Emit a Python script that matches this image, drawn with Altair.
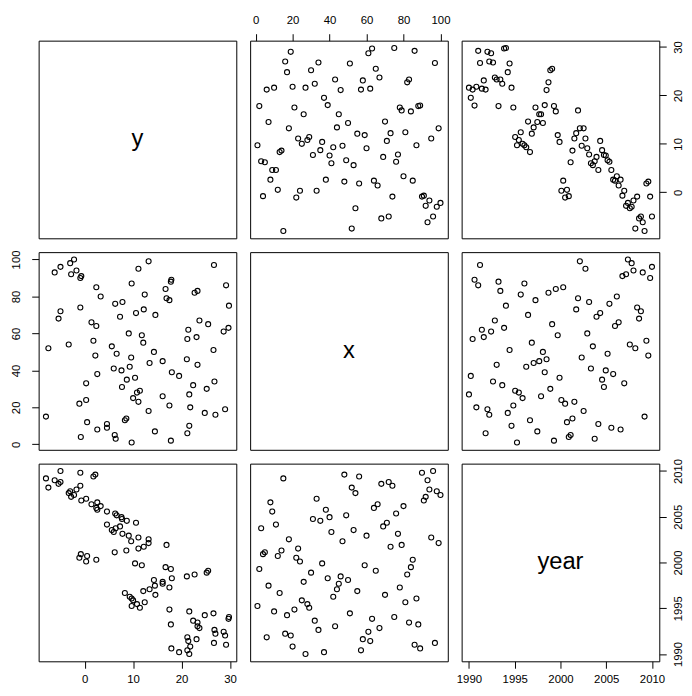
import altair as alt
import pandas as pd

year = [1990.00, 1990.20, 1990.40, 1990.61, 1990.81, 1991.01, 1991.21, 1991.41, 1991.62, 1991.82,
        1992.02, 1992.22, 1992.42, 1992.63, 1992.83, 1993.03, 1993.23, 1993.43, 1993.64, 1993.84,
        1994.04, 1994.24, 1994.44, 1994.65, 1994.85, 1995.05, 1995.25, 1995.45, 1995.66, 1995.86,
        1996.06, 1996.26, 1996.46, 1996.67, 1996.87, 1997.07, 1997.27, 1997.47, 1997.68, 1997.88,
        1998.08, 1998.28, 1998.48, 1998.69, 1998.89, 1999.09, 1999.29, 1999.49, 1999.70, 1999.90,
        2000.10, 2000.30, 2000.51, 2000.71, 2000.91, 2001.11, 2001.31, 2001.52, 2001.72, 2001.92,
        2002.12, 2002.32, 2002.53, 2002.73, 2002.93, 2003.13, 2003.33, 2003.54, 2003.74, 2003.94,
        2004.14, 2004.34, 2004.55, 2004.75, 2004.95, 2005.15, 2005.35, 2005.56, 2005.76, 2005.96,
        2006.16, 2006.36, 2006.57, 2006.77, 2006.97, 2007.17, 2007.37, 2007.58, 2007.78, 2007.98,
        2008.18, 2008.38, 2008.59, 2008.79, 2008.99, 2009.19, 2009.39, 2009.60, 2009.80, 2010.00]

x = [27, 37, 57, 89, 20, 86, 97, 62, 58, 6,
     19, 16, 61, 34, 67, 43, 88, 83, 32, 63,
     75, 17, 51, 10, 21, 29, 1, 28, 81, 25,
     87, 42, 70, 13, 55, 44, 78, 7, 45, 26,
     50, 39, 46, 82, 30, 65, 2, 84, 59, 36,
     24, 85, 22, 12, 4, 5, 14, 23, 73, 79,
     99, 47, 18, 95, 60, 77, 41, 53, 3, 69,
     11, 71, 35, 31, 40, 49, 76, 9, 38, 64,
     80, 66, 8, 91, 33, 92, 100, 54, 98, 94,
     52, 74, 68, 72, 93, 15, 56, 48, 90, 96]

y = [21.6, 19.5, 21.2, 17.9, 21.8, 29.2, 26.7, 21.4, 23.1, 21.2,
     29.0, 27.0, 28.7, 26.8, 23.7, 23.3, 17.8, 23.3, 22.4, 29.7,
     29.8, 24.8, 26.6, 21.6, 17.5, 11.4, 9.7, 10.8, 12.4, 10.0,
     9.7, 9.3, 14.6, 8.3, 12.1, 13.4, 17.5, 14.5, 16.1, 16.1,
     14.3, 18.0, 21.1, 22.7, 25.2, 25.5, 17.8, 16.7, 11.8, 10.4,
     0.3, 2.4, -1.1, 0.5, -0.8, 6.2, 8.6, 11.1, 12.2, 16.9,
     13.2, 9.6, 13.2, 11.1, 9.1, 7.8, 6.0, 5.6, 6.4, 7.3,
     4.6, 10.6, 8.7, 7.7, 7.6, 6.6, 6.3, 4.6, 2.6, 2.4,
     3.3, 1.4, 2.6, -0.7, 0.3, -2.8, -2.2, -3.3, -3.0, -1.7,
     -7.5, -0.9, -5.4, -5.0, -6.2, -8.0, 1.8, 2.2, -0.9, -5.0]

variables = ["y", "x", "year"]
tick_values = {"y": [0, 10, 20, 30],
               "x": [0, 20, 40, 60, 80, 100],
               "year": [1990, 1995, 2000, 2005, 2010]}

df = pd.DataFrame({"y": y, "x": x, "year": year})

FONT = "Liberation Sans"
W = 200
H = 200


def ext(vals):
    lo, hi = min(vals), max(vals)
    r = hi - lo
    return [lo - 0.04 * r, hi + 0.04 * r]


domains = {"y": ext(y), "x": ext(x), "year": ext(year)}


def make_axis(var, orient):
    common = dict(values=tick_values[var], orient=orient, title=None, grid=False,
                  domain=False, ticks=True, tickSize=7, tickColor="black", tickWidth=1,
                  labelColor="black", labelFont=FONT, labelFontSize=11.5, format="d",
                  labelFlush=False, labelOverlap=False)
    if orient == "top":
        return alt.Axis(labelPadding=8, labelAngle=0, labelBaseline="bottom",
                        labelAlign="center", **common)
    if orient == "bottom":
        return alt.Axis(labelPadding=5.5, labelAngle=0, labelBaseline="top",
                        labelAlign="center", **common)
    if orient == "left":
        return alt.Axis(labelPadding=10, labelAngle=270, labelBaseline="bottom",
                        labelAlign="center", **common)
    return alt.Axis(labelPadding=6, labelAngle=270, labelBaseline="top",
                    labelAlign="center", **common)


def scale(var):
    return alt.Scale(domain=domains[var], nice=False, zero=False)


# axis placement as in R's pairs(): alternate sides
col_axis = {0: (2, "bottom"), 1: (0, "top"), 2: (2, "bottom")}
row_axis = {0: (2, "right"), 1: (0, "left"), 2: (2, "right")}

panels = []
for r, rv in enumerate(variables):
    for c, cv in enumerate(variables):
        xa = make_axis(cv, col_axis[c][1]) if col_axis[c][0] == r else None
        ya = make_axis(rv, row_axis[r][1]) if row_axis[r][0] == c else None
        if r == c:
            label = alt.Chart(pd.DataFrame({"label": [rv]})).mark_text(
                font=FONT, fontSize=24, color="black", align="center", baseline="middle"
            ).encode(x=alt.value(W / 2), y=alt.value(H / 2), text="label:N")
            if xa is not None or ya is not None:
                ghost = alt.Chart(df).mark_point(opacity=0).encode(
                    x=alt.X(f"{cv}:Q", scale=scale(cv), axis=xa),
                    y=alt.Y(f"{rv}:Q", scale=scale(rv), axis=ya),
                )
                panel = alt.layer(ghost, label).properties(width=W, height=H)
            else:
                panel = label.properties(width=W, height=H)
        else:
            panel = alt.Chart(df).mark_point(
                shape="circle", filled=False, color="black", size=26,
                strokeWidth=1.1, opacity=1
            ).encode(
                x=alt.X(f"{cv}:Q", scale=scale(cv), axis=xa),
                y=alt.Y(f"{rv}:Q", scale=scale(rv), axis=ya),
            ).properties(width=W, height=H)
        panels.append(panel)

chart = alt.concat(*panels, columns=3, spacing=14).properties(
    bounds="flush",
    padding={"left": 2, "top": 2, "right": 0, "bottom": 0},
    background="white",
).configure_view(
    stroke="black", strokeWidth=1
)

chart.save("out.html", embed_options={"renderer": "svg", "actions": False})
